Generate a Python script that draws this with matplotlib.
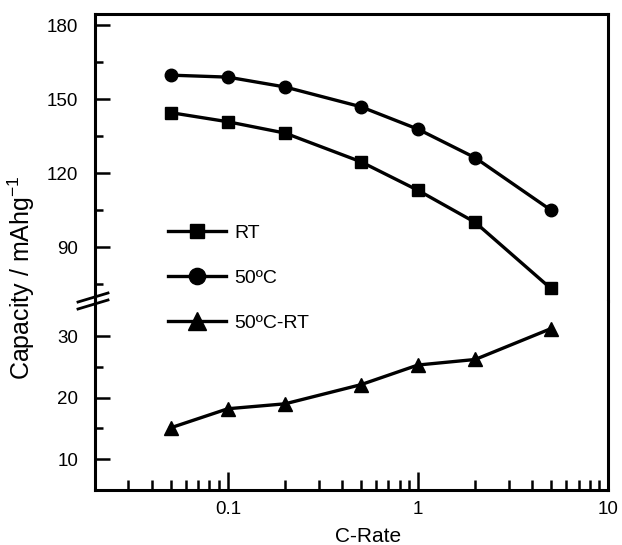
import numpy as np
import matplotlib
matplotlib.use("Agg")
import matplotlib.pyplot as plt
from matplotlib.lines import Line2D
from matplotlib.ticker import LogLocator, NullFormatter, FixedLocator

plt.rcParams['font.family'] = ['Liberation Sans', 'DejaVu Sans']
plt.rcParams['mathtext.fontset'] = 'custom'
plt.rcParams['mathtext.rm'] = 'Liberation Sans'
plt.rcParams['mathtext.default'] = 'regular'

# data
c_rate = [0.05, 0.1, 0.2, 0.5, 1, 2, 5]
cap_rt = [144.5, 140.8, 136.2, 124.6, 113.0, 100.0, 73.2]
cap_50 = [159.7, 158.9, 154.9, 146.9, 137.8, 126.2, 105.0]
cap_diff = [15.1, 18.2, 19.0, 22.1, 25.3, 26.2, 31.2]
labels = ['RT', '50ºC', '50ºC-RT']

W, H = 622, 545
fig = plt.figure(figsize=(W / 100, H / 100), dpi=100)

left, right = 95 / W, 608 / W
top, brk, bot = 1 - 14 / H, 1 - 301 / H, 1 - 490 / H
ax_t = fig.add_axes([left, brk, right - left, top - brk])
ax_b = fig.add_axes([left, bot, right - left, brk - bot], sharex=ax_t)

lw = 2.4
l1, = ax_t.plot(c_rate, cap_rt, '-s', color='black', lw=lw, ms=8, clip_on=False)
l2, = ax_t.plot(c_rate, cap_50, '-o', color='black', lw=lw, ms=9, clip_on=False)
l3, = ax_b.plot(c_rate, cap_diff, '-^', color='black', lw=lw, ms=10, clip_on=False)

ax_t.set_xscale('log')
ax_t.set_xlim(0.02, 10)
ax_t.set_ylim(68.1, 184.5)
ax_b.set_ylim(5, 35.7)

for ax in (ax_t, ax_b):
    for s in ax.spines.values():
        s.set_linewidth(2.2)
    ax.tick_params(which='both', direction='in', width=1.8, labelsize=13.5,
                   top=False, right=False)
    ax.tick_params(axis='y', which='major', length=11, pad=12)
    ax.tick_params(axis='y', which='minor', length=5.5)

ax_t.spines['bottom'].set_visible(False)
ax_b.spines['top'].set_visible(False)
ax_t.tick_params(axis='x', which='both', bottom=False, labelbottom=False)

ax_t.yaxis.set_major_locator(FixedLocator([90, 120, 150, 180]))
ax_t.yaxis.set_minor_locator(FixedLocator([75, 105, 135, 165]))
ax_b.yaxis.set_major_locator(FixedLocator([10, 20, 30]))
ax_b.yaxis.set_minor_locator(FixedLocator([15, 25]))

ax_b.set_xticks([0.1, 1, 10], labels=['0.1', '1', '10'])
ax_b.xaxis.set_minor_locator(LogLocator(base=10, subs=np.arange(2, 10)))
ax_b.xaxis.set_minor_formatter(NullFormatter())
ax_b.tick_params(axis='x', which='major', length=13, pad=8)
ax_b.tick_params(axis='x', which='minor', length=7)

# break marks on the left axis
for dy in (0, 7):
    fig.add_artist(Line2D([78 / W, 108 / W],
                          [1 - (302 + dy) / H, 1 - (293 + dy) / H],
                          color='black', lw=2.0, transform=fig.transFigure))

fig.text(368 / W, 1 - 537 / H, 'C-Rate', ha='center', va='center', fontsize=15)
fig.text(21 / W, 1 - 278 / H, 'Capacity / mAhg$^{-1}$', ha='center', va='center',
         rotation=90, fontsize=18)

fig.legend([l1, l2, l3], labels, loc='center left',
           bbox_to_anchor=(168 / W, 1 - 278 / H), frameon=False, fontsize=14,
           borderpad=0, borderaxespad=0, handlelength=3.0, handletextpad=0.4,
           labelspacing=1.4, markerscale=1.3)

fig.savefig('out.png', dpi=100)
